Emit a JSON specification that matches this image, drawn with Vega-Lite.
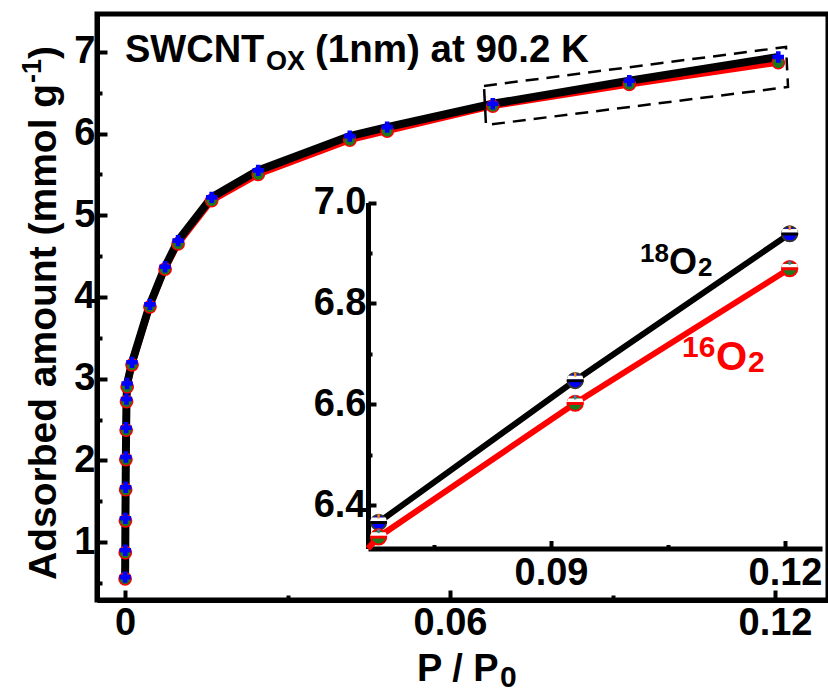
{
  "$schema": "https://vega.github.io/schema/vega-lite/v6.json",
  "width": 731,
  "height": 586,
  "autosize": {"type": "none"},
  "padding": {"left": 97, "top": 14, "right": 0, "bottom": 95},
  "background": "white",
  "config": {
    "view": {"stroke": "black", "strokeWidth": 5},
    "font": "Liberation Sans",
    "text": {"font": "Liberation Sans", "fontWeight": "bold", "baseline": "alphabetic", "align": "left"},
    "axis": {
      "grid": false,
      "domainColor": "black",
      "domainWidth": 5,
      "tickColor": "black",
      "tickWidth": 4,
      "labelFont": "Liberation Sans",
      "labelFontWeight": "bold",
      "labelColor": "black",
      "labelFlush": false,
      "labelOverlap": false,
      "labelFontSize": 38
    }
  },
  "datasets": {
    "iso": [
      {"gas": "18O2", "p": 0.00002, "n": 0.57},
      {"gas": "18O2", "p": 0.00005, "n": 0.90},
      {"gas": "18O2", "p": 0.00008, "n": 1.29},
      {"gas": "18O2", "p": 0.00012, "n": 1.67},
      {"gas": "18O2", "p": 0.00016, "n": 2.04},
      {"gas": "18O2", "p": 0.00021, "n": 2.40},
      {"gas": "18O2", "p": 0.00028, "n": 2.75},
      {"gas": "18O2", "p": 0.0004, "n": 2.94},
      {"gas": "18O2", "p": 0.0013, "n": 3.20},
      {"gas": "18O2", "p": 0.0046, "n": 3.91},
      {"gas": "18O2", "p": 0.0074, "n": 4.37},
      {"gas": "18O2", "p": 0.0098, "n": 4.69},
      {"gas": "18O2", "p": 0.016, "n": 5.22},
      {"gas": "18O2", "p": 0.0246, "n": 5.55},
      {"gas": "18O2", "p": 0.0415, "n": 5.97},
      {"gas": "18O2", "p": 0.0484, "n": 6.08},
      {"gas": "18O2", "p": 0.0679, "n": 6.366},
      {"gas": "18O2", "p": 0.0931, "n": 6.647},
      {"gas": "18O2", "p": 0.1206, "n": 6.938},
      {"gas": "16O2", "p": 0.00002, "n": 0.55},
      {"gas": "16O2", "p": 0.00005, "n": 0.87},
      {"gas": "16O2", "p": 0.00008, "n": 1.26},
      {"gas": "16O2", "p": 0.00012, "n": 1.64},
      {"gas": "16O2", "p": 0.00016, "n": 2.01},
      {"gas": "16O2", "p": 0.00021, "n": 2.37},
      {"gas": "16O2", "p": 0.00028, "n": 2.72},
      {"gas": "16O2", "p": 0.0004, "n": 2.90},
      {"gas": "16O2", "p": 0.0013, "n": 3.17},
      {"gas": "16O2", "p": 0.0046, "n": 3.88},
      {"gas": "16O2", "p": 0.0074, "n": 4.34},
      {"gas": "16O2", "p": 0.0098, "n": 4.65},
      {"gas": "16O2", "p": 0.016, "n": 5.18},
      {"gas": "16O2", "p": 0.0246, "n": 5.50},
      {"gas": "16O2", "p": 0.0415, "n": 5.92},
      {"gas": "16O2", "p": 0.0484, "n": 6.03},
      {"gas": "16O2", "p": 0.0679, "n": 6.337},
      {"gas": "16O2", "p": 0.0931, "n": 6.602},
      {"gas": "16O2", "p": 0.1206, "n": 6.869}
    ],
    "zoomBox": [
      {"k": 1, "p": 0.06627, "n": 6.584},
      {"k": 2, "p": 0.12203, "n": 7.061},
      {"k": 3, "p": 0.1224, "n": 6.571},
      {"k": 4, "p": 0.06664, "n": 6.106},
      {"k": 5, "p": 0.06627, "n": 6.584}
    ]
  },
  "layer": [
    {
      "layer": [
        {
          "data": {"name": "iso"},
          "transform": [{"filter": "datum.gas === '16O2'"}],
          "mark": {"type": "line", "color": "#ff0000", "strokeWidth": 6},
          "encoding": {
            "x": {
              "field": "p", "type": "quantitative",
              "scale": {"domain": [-0.00517, 0.12978], "nice": false, "zero": false},
              "axis": {
                "orient": "bottom",
                "title": null,
                "values": [0, 0.03, 0.06, 0.09, 0.12],
                "labelExpr": "indexof([0.03, 0.09], datum.value) >= 0 ? '' : (datum.value === 0 ? '0' : format(datum.value, '.2f'))",
                "labelPadding": 14,
                "tickSize": {"condition": {"test": "indexof([0.03, 0.09], datum.value) >= 0", "value": -5}, "value": -10}
              }
            },
            "y": {
              "field": "n", "type": "quantitative",
              "scale": {"domain": [0.29, 7.465], "nice": false, "zero": false},
              "axis": {
                "orient": "left",
                "title": null,
                "values": [0.5, 1, 1.5, 2, 2.5, 3, 3.5, 4, 4.5, 5, 5.5, 6, 6.5, 7],
                "labelExpr": "datum.value % 1 === 0 ? format(datum.value, 'd') : ''",
                "labelPadding": 12,
                "tickSize": {"condition": {"test": "datum.value % 1 !== 0", "value": -5}, "value": -10}
              }
            },
            "order": {"field": "p"}
          }
        },
        {
          "data": {"name": "iso"},
          "transform": [{"filter": "datum.gas === '18O2'"}],
          "mark": {"type": "line", "color": "black", "strokeWidth": 8},
          "encoding": {
            "x": {"field": "p", "type": "quantitative"},
            "y": {"field": "n", "type": "quantitative"},
            "order": {"field": "p"}
          }
        },
        {
          "data": {"name": "iso"},
          "transform": [{"filter": "datum.gas === '16O2'"}],
          "mark": {"type": "point", "shape": "circle", "filled": true, "color": "#1c7a1c", "stroke": "#ff0000", "strokeWidth": 1.5, "size": 150, "opacity": 1},
          "encoding": {
            "x": {"field": "p", "type": "quantitative"},
            "y": {"field": "n", "type": "quantitative"}
          }
        },
        {
          "data": {"name": "iso"},
          "transform": [{"filter": "datum.gas === '18O2'"}],
          "mark": {"type": "point", "shape": "cross", "filled": true, "color": "#0000ff", "size": 130, "opacity": 1},
          "encoding": {
            "x": {"field": "p", "type": "quantitative"},
            "y": {"field": "n", "type": "quantitative"}
          }
        },
        {
          "data": {"name": "zoomBox"},
          "mark": {"type": "line", "color": "black", "strokeWidth": 2.5, "strokeDash": [13, 8]},
          "encoding": {
            "x": {"field": "p", "type": "quantitative"},
            "y": {"field": "n", "type": "quantitative"},
            "order": {"field": "k"}
          }
        },
        {
          "data": {"values": [{}]},
          "mark": {"type": "text", "text": "SWCNT", "fontSize": 38, "color": "black"},
          "encoding": {
            "x": {"datum": 0, "type": "quantitative"},
            "y": {"datum": 6.877, "type": "quantitative"}
          }
        },
        {
          "data": {"values": [{}]},
          "mark": {"type": "text", "text": "OX", "fontSize": 27, "color": "black", "dx": 141, "dy": 8},
          "encoding": {
            "x": {"datum": 0, "type": "quantitative"},
            "y": {"datum": 6.877, "type": "quantitative"}
          }
        },
        {
          "data": {"values": [{}]},
          "mark": {"type": "text", "text": "(1nm) at 90.2 K", "fontSize": 38.5, "color": "black", "dx": 190},
          "encoding": {
            "x": {"datum": 0, "type": "quantitative"},
            "y": {"datum": 6.877, "type": "quantitative"}
          }
        },
        {
          "data": {"values": [{}]},
          "mark": {"type": "text", "text": "P / P", "fontSize": 38, "color": "black"},
          "encoding": {
            "x": {"datum": 0.0539, "type": "quantitative"},
            "y": {"datum": -0.70, "type": "quantitative"}
          }
        },
        {
          "data": {"values": [{}]},
          "mark": {"type": "text", "text": "0", "fontSize": 30, "color": "black", "dx": 83, "dy": 6},
          "encoding": {
            "x": {"datum": 0.0539, "type": "quantitative"},
            "y": {"datum": -0.70, "type": "quantitative"}
          }
        },
        {
          "data": {"values": [{}]},
          "mark": {"type": "text", "text": "Adsorbed amount (mmol g", "fontSize": 39, "color": "black", "angle": 270},
          "encoding": {
            "x": {"datum": -0.01274, "type": "quantitative"},
            "y": {"datum": 0.535, "type": "quantitative"}
          }
        },
        {
          "data": {"values": [{}]},
          "mark": {"type": "text", "text": "-1", "fontSize": 27, "color": "black", "angle": 270, "dx": 497, "dy": -15},
          "encoding": {
            "x": {"datum": -0.01274, "type": "quantitative"},
            "y": {"datum": 0.535, "type": "quantitative"}
          }
        },
        {
          "data": {"values": [{}]},
          "mark": {"type": "text", "text": ")", "fontSize": 39, "color": "black", "angle": 270, "dx": 521},
          "encoding": {
            "x": {"datum": -0.01274, "type": "quantitative"},
            "y": {"datum": 0.535, "type": "quantitative"}
          }
        }
      ]
    },
    {
      "layer": [
        {
          "data": {"name": "iso"},
          "transform": [{"filter": "datum.gas === '16O2' && datum.p > 0.045"}],
          "mark": {"type": "line", "color": "#ff0000", "strokeWidth": 6},
          "encoding": {
            "x": {
              "field": "p", "type": "quantitative",
              "scale": {"domain": [0.06654, 0.12474], "range": [271, 725], "nice": false, "zero": false, "clamp": true},
              "axis": {
                "orient": "bottom",
                "offset": -51.5,
                "title": null,
                "values": [0.075, 0.09, 0.105, 0.12],
                "labelExpr": "indexof([0.075, 0.105], datum.value) >= 0 ? '' : format(datum.value, '.2f')",
                "labelPadding": 14,
                "tickSize": {"condition": {"test": "indexof([0.075, 0.105], datum.value) >= 0", "value": -4}, "value": -8}
              }
            },
            "y": {
              "field": "n", "type": "quantitative",
              "scale": {"domain": [6.314, 7.0], "range": [534.5, 188.5], "nice": false, "zero": false, "clamp": true},
              "axis": {
                "orient": "left",
                "offset": -271,
                "title": null,
                "values": [6.4, 6.5, 6.6, 6.7, 6.8, 6.9, 7.0],
                "labelExpr": "indexof([6.5, 6.7, 6.9], datum.value) >= 0 ? '' : format(datum.value, '.1f')",
                "labelPadding": 10,
                "tickSize": {"condition": {"test": "indexof([6.5, 6.7, 6.9], datum.value) >= 0", "value": -4}, "value": -8}
              }
            },
            "order": {"field": "p"}
          }
        },
        {
          "data": {"name": "iso"},
          "transform": [{"filter": "datum.gas === '18O2' && datum.p > 0.06"}],
          "mark": {"type": "line", "color": "black", "strokeWidth": 6},
          "encoding": {
            "x": {"field": "p", "type": "quantitative"},
            "y": {"field": "n", "type": "quantitative"},
            "order": {"field": "p"}
          }
        },
        {
          "data": {"name": "iso"},
          "transform": [{"filter": "datum.p > 0.06"}],
          "mark": {"type": "point", "shape": "circle", "filled": true, "size": 230, "strokeWidth": 2, "opacity": 1},
          "encoding": {
            "x": {"field": "p", "type": "quantitative"},
            "y": {"field": "n", "type": "quantitative"},
            "fill": {"field": "gas", "type": "nominal", "scale": {"domain": ["18O2", "16O2"], "range": ["#0000ff", "#1c7a1c"]}, "legend": null},
            "stroke": {"field": "gas", "type": "nominal", "scale": {"domain": ["18O2", "16O2"], "range": ["#333333", "#ff0000"]}, "legend": null}
          }
        },
        {
          "data": {"name": "iso"},
          "transform": [{"filter": "datum.p > 0.06"}],
          "mark": {"type": "point", "shape": "M-0.84,-0.55L0.84,-0.55L0.99,-0.12L-0.99,-0.12Z", "filled": true, "color": "white", "size": 290, "opacity": 1},
          "encoding": {
            "x": {"field": "p", "type": "quantitative"},
            "y": {"field": "n", "type": "quantitative"}
          }
        },
        {
          "data": {"name": "iso"},
          "transform": [{"filter": "datum.p > 0.06"}],
          "mark": {"type": "point", "shape": "M-0.14,-0.95L0.14,-0.95L0.14,-0.45L-0.14,-0.45Z", "filled": true, "size": 290, "opacity": 1},
          "encoding": {
            "x": {"field": "p", "type": "quantitative"},
            "y": {"field": "n", "type": "quantitative"},
            "fill": {"field": "gas", "type": "nominal", "legend": null}
          }
        },
        {
          "data": {"name": "iso"},
          "transform": [{"filter": "datum.p > 0.06"}],
          "mark": {"type": "point", "shape": "M-0.98,-0.14L0.98,-0.14L0.98,0.2L-0.98,0.2Z", "filled": true, "size": 290, "opacity": 1},
          "encoding": {
            "x": {"field": "p", "type": "quantitative"},
            "y": {"field": "n", "type": "quantitative"},
            "fill": {"field": "gas", "type": "nominal", "scale": {"domain": ["18O2", "16O2"], "range": ["black", "#ff0000"]}, "legend": null}
          }
        },
        {
          "data": {"values": [{}]},
          "mark": {"type": "text", "text": "18", "fontSize": 26, "color": "black", "dy": -12},
          "encoding": {
            "x": {"datum": 0.1014, "type": "quantitative"},
            "y": {"datum": 6.859, "type": "quantitative"}
          }
        },
        {
          "data": {"values": [{}]},
          "mark": {"type": "text", "text": "O", "fontSize": 36, "color": "black", "dx": 29},
          "encoding": {
            "x": {"datum": 0.1014, "type": "quantitative"},
            "y": {"datum": 6.859, "type": "quantitative"}
          }
        },
        {
          "data": {"values": [{}]},
          "mark": {"type": "text", "text": "2", "fontSize": 26, "color": "black", "dx": 58, "dy": 2},
          "encoding": {
            "x": {"datum": 0.1014, "type": "quantitative"},
            "y": {"datum": 6.859, "type": "quantitative"}
          }
        },
        {
          "data": {"values": [{}]},
          "mark": {"type": "text", "text": "16", "fontSize": 30, "color": "#ff0000", "dy": -13},
          "encoding": {
            "x": {"datum": 0.1068, "type": "quantitative"},
            "y": {"datum": 6.668, "type": "quantitative"}
          }
        },
        {
          "data": {"values": [{}]},
          "mark": {"type": "text", "text": "O", "fontSize": 40, "color": "#ff0000", "dx": 34},
          "encoding": {
            "x": {"datum": 0.1068, "type": "quantitative"},
            "y": {"datum": 6.668, "type": "quantitative"}
          }
        },
        {
          "data": {"values": [{}]},
          "mark": {"type": "text", "text": "2", "fontSize": 30, "color": "#ff0000", "dx": 66, "dy": 2},
          "encoding": {
            "x": {"datum": 0.1068, "type": "quantitative"},
            "y": {"datum": 6.668, "type": "quantitative"}
          }
        }
      ],
      "resolve": {"scale": {"fill": "independent", "stroke": "independent"}}
    }
  ],
  "resolve": {
    "scale": {"x": "independent", "y": "independent"},
    "axis": {"x": "independent", "y": "independent"}
  }
}
